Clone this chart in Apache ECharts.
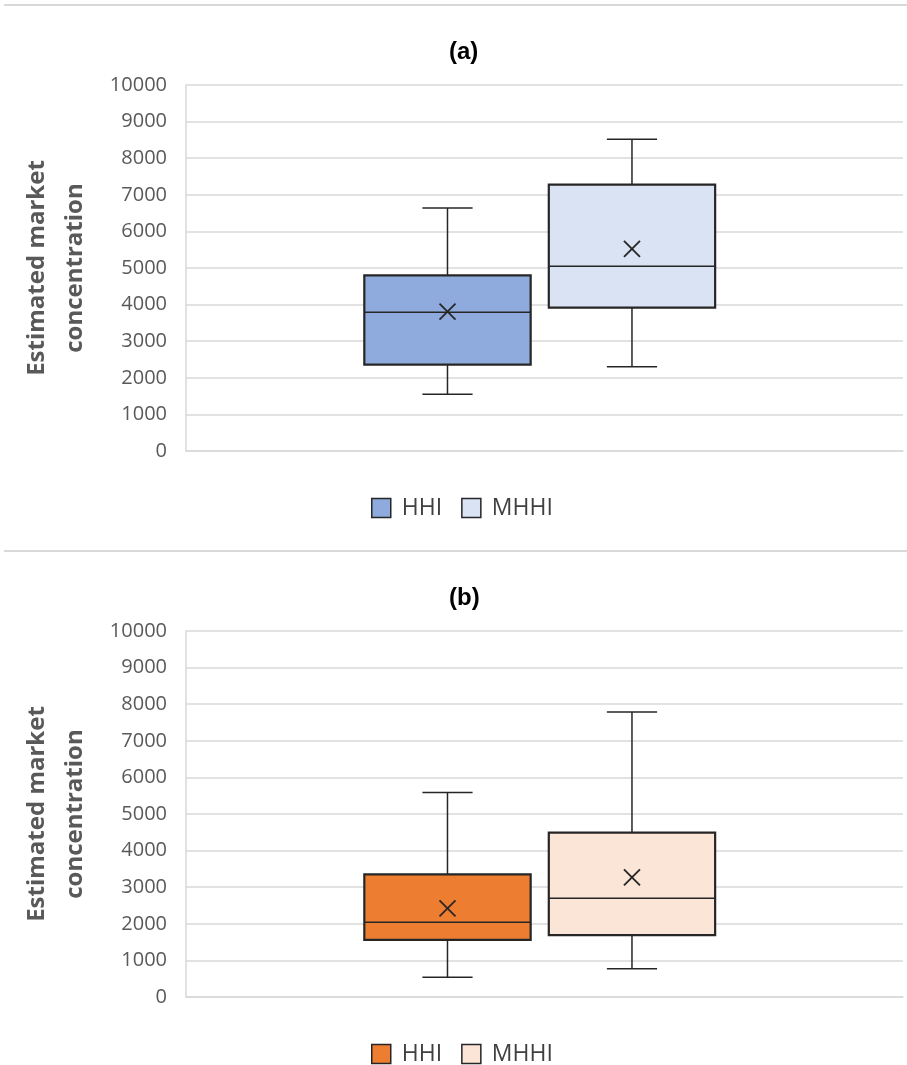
<!DOCTYPE html>
<html>
<head>
<meta charset="utf-8">
<script src="https://cdn.jsdelivr.net/npm/echarts@6/dist/echarts.min.js"></script>
<style>
  body { margin: 0; background: #fff; }
  #wrap { position: relative; width: 907px; height: 1065px; }
  .sep { position: absolute; left: 4px; right: 0; height: 2px; background: #d9d9d9; }
  .chart { position: absolute; left: 0; width: 907px; }
</style>
</head>
<body>
<div id="wrap">
  <div class="sep" style="top:4px"></div>
  <div class="sep" style="top:550px"></div>
  <div id="chartA" class="chart" style="top:0;height:546px"></div>
  <div id="chartB" class="chart" style="top:546px;height:519px"></div>
</div>
<script>
// series names
var seriesNames = ['HHI', 'MHHI'];
var panelTitles = ['(a)', '(b)'];
// y axis ticks
var yMin = 0, yMax = 10000, yStep = 1000;
// box values: [min, Q1, median, Q3, max, mean]
var hhiA  = [1550, 2360, 3790, 4800, 6640, 3810];
var mhhiA = [2300, 3920, 5050, 7280, 8520, 5520];
var hhiB  = [540, 1560, 2040, 3350, 5590, 2420];
var mhhiB = [770, 1690, 2700, 4490, 7790, 3270];

var INK = '#262626';

// draws one box + whiskers + mean cross, shifted inside the single category band
function boxRenderer(shift) {
  return function (params, api) {
    var cat = api.value(0);
    var band = api.size([1, 0])[0];
    var cx = api.coord([cat, 0])[0] + band * shift;
    var half = band * 0.116;
    var capHalf = band * 0.035;
    function y(i) { return api.coord([cat, api.value(i)])[1]; }
    var yLo = y(1), yQ1 = y(2), yMed = y(3), yQ3 = y(4), yHi = y(5), yMean = y(6);
    var thin = { stroke: INK, lineWidth: 1.5 };
    var m = 8;
    return {
      type: 'group',
      children: [
        { type: 'line', shape: { x1: cx, y1: yQ3, x2: cx, y2: yHi }, style: thin },
        { type: 'line', shape: { x1: cx - capHalf, y1: yHi, x2: cx + capHalf, y2: yHi }, style: thin },
        { type: 'line', shape: { x1: cx, y1: yQ1, x2: cx, y2: yLo }, style: thin },
        { type: 'line', shape: { x1: cx - capHalf, y1: yLo, x2: cx + capHalf, y2: yLo }, style: thin },
        { type: 'rect', shape: { x: cx - half, y: yQ3, width: half * 2, height: yQ1 - yQ3 },
          style: { fill: api.visual('color'), stroke: INK, lineWidth: 2.2 } },
        { type: 'line', shape: { x1: cx - half, y1: yMed, x2: cx + half, y2: yMed }, style: thin },
        { type: 'line', shape: { x1: cx - m, y1: yMean - m, x2: cx + m, y2: yMean + m }, style: { stroke: INK, lineWidth: 1.8 } },
        { type: 'line', shape: { x1: cx - m, y1: yMean + m, x2: cx + m, y2: yMean - m }, style: { stroke: INK, lineWidth: 1.8 } }
      ]
    };
  };
}

function makeOption(title, hhi, mhhi, colors) {
  return {
    animation: false,
    title: {
      text: title,
      left: 444,
      top: 35,
      textStyle: { fontFamily: 'Liberation Sans', fontWeight: 'bold', fontSize: 24, color: '#000' }
    },
    legend: {
      left: 371,
      top: 496,
      padding: 0,
      itemWidth: 19,
      itemHeight: 19,
      itemGap: 19,
      textStyle: { fontFamily: 'Open Sans', fontSize: 23, color: '#404040', lineHeight: 24, padding: [0, 0, 0, 6] },
      data: seriesNames.map(function (n, i) {
        return { name: n, icon: 'rect', itemStyle: { color: colors[i], borderColor: INK, borderWidth: 1.5 } };
      })
    },
    grid: { left: 186, top: 85, width: 717, height: 366 },
    xAxis: {
      type: 'category',
      data: [''],
      axisLine: { show: true, lineStyle: { color: '#d9d9d9', width: 1.5 } },
      axisTick: { show: false },
      axisLabel: { show: false }
    },
    yAxis: {
      type: 'value',
      min: yMin,
      max: yMax,
      interval: yStep,
      name: 'Estimated market\nconcentration',
      nameLocation: 'middle',
      nameRotate: 90,
      nameGap: 92,
      nameTextStyle: { fontFamily: 'Open Sans', fontWeight: 'bold', fontSize: 24, color: '#595959', lineHeight: 38 },
      axisLine: { show: true, lineStyle: { color: '#d9d9d9', width: 1.5 } },
      axisTick: { show: false },
      axisLabel: {
        fontFamily: 'Open Sans', fontSize: 20, color: '#595959', margin: 19,
        formatter: function (v) { return String(v); }
      },
      splitLine: { lineStyle: { color: '#d9d9d9', width: 1.5 } }
    },
    series: [
      {
        name: seriesNames[0],
        type: 'custom',
        itemStyle: { color: colors[0] },
        encode: { x: 0, y: [1, 2, 3, 4, 5, 6] },
        renderItem: boxRenderer(-0.1353),
        data: [[0].concat(hhi)]
      },
      {
        name: seriesNames[1],
        type: 'custom',
        itemStyle: { color: colors[1] },
        encode: { x: 0, y: [1, 2, 3, 4, 5, 6] },
        renderItem: boxRenderer(0.122),
        data: [[0].concat(mhhi)]
      }
    ]
  };
}

var chartA = echarts.init(document.getElementById('chartA'));
chartA.setOption(makeOption(panelTitles[0], hhiA, mhhiA, ['#8faadc', '#dae3f3']));

var chartB = echarts.init(document.getElementById('chartB'));
chartB.setOption(makeOption(panelTitles[1], hhiB, mhhiB, ['#ed7d31', '#fbe5d6']));
</script>
</body>
</html>
